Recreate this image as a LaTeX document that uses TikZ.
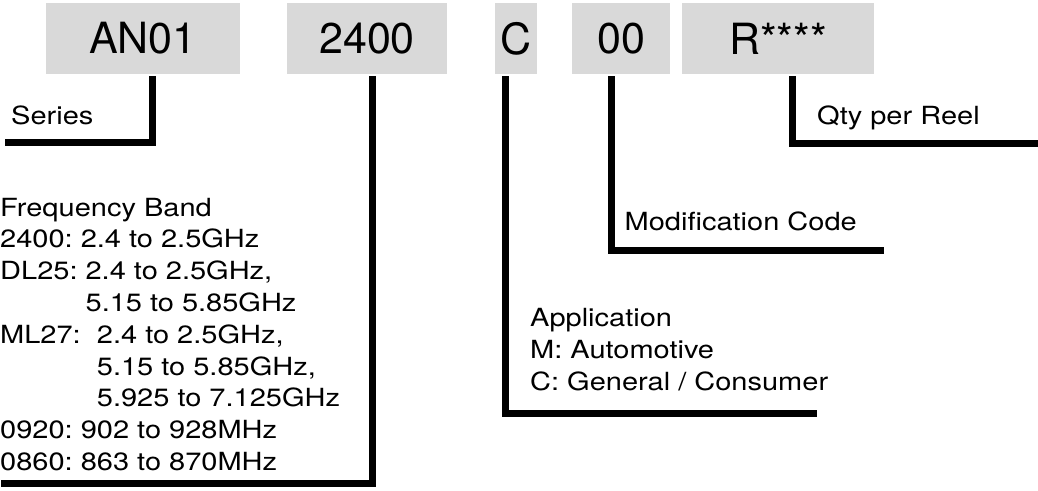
\documentclass[tikz,border=0pt]{standalone}
\usepackage{fontspec}
\setmainfont[FakeStretch=1.16]{TeX Gyre Heros}
\newfontfamily\codefont{TeX Gyre Heros}
\definecolor{partgrey}{RGB}{217,217,217}
\frenchspacing
\tikzset{
  partbox/.style={fill=partgrey, inner sep=0pt, minimum height=71pt,
                  font=\codefont\fontsize{43}{43}\selectfont},
  callout/.style={line width=7pt, line join=miter},
  lbl/.style={inner sep=0pt, align=left, font=\fontsize{25}{31.8}\selectfont}
}
\begin{document}
\begin{tikzpicture}[x=1pt, y=-1pt]
      \useasboundingbox (0, 0) rectangle (1038, 490);
      \node [partbox, minimum width=194pt] (an01) at (143, 38.5) {AN01};
      \node [partbox, minimum width=160pt] (band) at (367, 38.5) {2400};
      \node [partbox, minimum width=42pt]  (appl) at (516, 38.5) {C};
      \node [partbox, minimum width=98pt]  (modc) at (621, 38.5) {00};
      \node [partbox, minimum width=192pt] (reel) at (778, 38.5) {R****};
      \coordinate (seriesend) at (5, 142);
      \coordinate (bandend)   at (1, 483);
      \coordinate (applend)   at (817, 413.5);
      \coordinate (modcend)   at (884, 250.5);
      \coordinate (reelend)   at (1040, 143.5);
      \draw [callout] ([xshift=9.5pt, yshift=-2pt]an01.south) |- (seriesend)
                      ([xshift=5pt, yshift=-2pt]band.south) |- (bandend)
                      ([xshift=-10.5pt, yshift=-2pt]appl.south) |- (applend)
                      ([xshift=-10pt, yshift=-2pt]modc.south) |- (modcend)
                      ([xshift=14.5pt, yshift=-2pt]reel.south) |- (reelend);
      \node [lbl, anchor=base west] (series) at (11, 124) {Series};
      \node [lbl, anchor=base west] (qty) at (817, 124) {Qty per Reel};
      \node [lbl, anchor=base west] (mod) at (624.5, 230.7) {Modification Code};
      \node [lbl, anchor=north west] (freq) at (0, 197.7)
            {Frequency Band\\
             2400: 2.4 to 2.5GHz\\
             DL25: 2.4 to 2.5GHz,\\
             \phantom{DL25: }5.15 to 5.85GHz\\
             ML27:\ \ 2.4 to 2.5GHz,\\
             \phantom{ML27:\ \ }5.15 to 5.85GHz,\\
             \phantom{ML27:\ \ }5.925 to 7.125GHz\\
             0920: 902 to 928MHz\\
             0860: 863 to 870MHz};
      \node [lbl, anchor=north west] (app) at (530, 308)
            {Application\\
             M: Automotive\\
             C: General / Consumer};
\end{tikzpicture}
\end{document}
